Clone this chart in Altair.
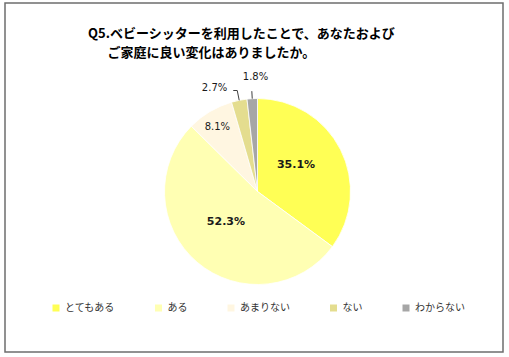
import altair as alt
import pandas as pd

categories = ["とてもある", "ある", "あまりない", "ない", "わからない"]
values = [35.1, 52.3, 8.1, 2.7, 1.8]
label_texts = ["35.1%", "52.3%", "8.1%", "2.7%", "1.8%"]
colors = ["#FFFF55", "#FFFFB3", "#FFF6E1", "#E4DD8F", "#A6A6A6"]
title_line1 = "Q5.ベビーシッターを利用したことで、あなたおよび"
title_line2 = "\u200b\u3000\u2002ご家庭に良い変化はありましたか。"

df = pd.DataFrame({"cat": categories, "value": values, "label": label_texts,
                   "idx": list(range(len(categories)))})

CX, CY, R = 252.5, 188.5, 93
JP = "Noto Sans CJK JP"
NUM = "DejaVu Sans"

base = (
    alt.Chart(df)
    .transform_window(cum="sum(value)", sort=[alt.SortField("idx")], frame=[None, 0])
    .transform_joinaggregate(total="sum(value)")
    .transform_calculate(mid="2*PI*(datum.cum - datum.value/2)/datum.total")
)

arcs = alt.Chart(df).mark_arc(outerRadius=R, stroke="white", strokeWidth=0.8).encode(
    theta=alt.Theta("value:Q", stack=True),
    order=alt.Order("idx:Q"),
    color=alt.Color(
        "cat:N",
        sort=categories,
        scale=alt.Scale(domain=categories, range=colors),
        legend=alt.Legend(
            orient="none", legendX=46, legendY=300, direction="horizontal",
            title=None, symbolType="square", symbolSize=49, symbolStrokeWidth=0,
            labelFont=JP, labelFontSize=10, labelColor="#333333",
            columnPadding=38.5, labelOffset=4, padding=0,
        ),
    ),
    x=alt.value(CX),
    y=alt.value(CY),
)


def label(cat, r, dx=0, dy=0, bold=False, size=10, align="center"):
    return (
        base.transform_filter(alt.datum.cat == cat)
        .transform_calculate(
            lx=f"{CX}+{r}*sin(datum.mid)", ly=f"{CY}-{r}*cos(datum.mid)"
        )
        .mark_text(font=NUM, fontSize=size, fontWeight="bold" if bold else "normal",
                   dx=dx, dy=dy, align=align, baseline="middle", color="#1a1a1a")
        .encode(x=alt.X("lx:Q", scale=None), y=alt.Y("ly:Q", scale=None), text="label:N")
    )


def leader(cat, r2, hook=0):
    c = base.transform_filter(alt.datum.cat == cat).transform_calculate(
        x1=f"{CX}+{R}*sin(datum.mid)", y1=f"{CY}-{R}*cos(datum.mid)",
        x2=f"{CX}+{r2}*sin(datum.mid)", y2=f"{CY}-{r2}*cos(datum.mid)",
        x3=f"{CX}+{r2}*sin(datum.mid)-{hook}",
    )
    seg = c.mark_rule(color="#404040", strokeWidth=1).encode(
        x=alt.X("x1:Q", scale=None), y=alt.Y("y1:Q", scale=None), x2="x2:Q", y2="y2:Q")
    if hook:
        seg = seg + c.mark_rule(color="#404040", strokeWidth=1).encode(
            x=alt.X("x2:Q", scale=None), y=alt.Y("y2:Q", scale=None), x2="x3:Q")
    return seg


chart = alt.layer(
    arcs,
    label("とてもある", 47, dx=-3.4, dy=-5.3, bold=True, size=11),
    label("ある", 44, dx=-3, dy=-2.7, bold=True, size=11),
    label("あまりない", 75.5, dx=-1.5),
    leader("ない", 103, hook=4),
    label("ない", 103, dx=-10, dy=-2.5, align="right"),
    leader("わからない", 100.5),
    label("わからない", 100.5, dx=3.7, dy=-14.2),
).properties(
    width=498,
    height=349,
    autosize="none",
    padding={"left": 5, "top": 3, "right": 6, "bottom": 5},
    title=alt.Title(
        text=title_line1, subtitle=title_line2, anchor="start", frame="group",
        dx=83, offset=-57, font=JP, fontSize=13, fontWeight="bold", color="#000000",
        subtitleFont=JP, subtitleFontSize=13, subtitleFontWeight="bold",
        subtitleColor="#000000", subtitlePadding=6,
    ),
).configure_view(stroke="#6e6e6e", strokeWidth=1.5)

chart.save("out.html", embed_options={"renderer": "svg", "actions": False})
